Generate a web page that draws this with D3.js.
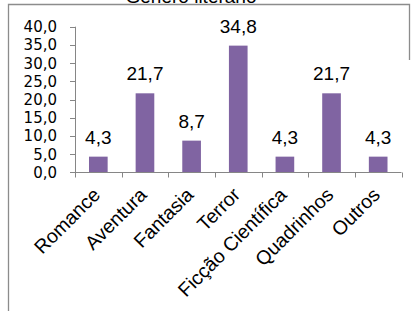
<!DOCTYPE html>
<html>
<head>
<meta charset="utf-8">
<script src="https://cdn.jsdelivr.net/npm/d3@7"></script>
<style>
  html, body { margin: 0; padding: 0; background: #fff; }
  svg { display: block; }
</style>
</head>
<body>
<svg id="chart" width="412" height="311"></svg>
<script>
const categories = ['Romance', 'Aventura', 'Fantasia', 'Terror', 'Ficção Científica', 'Quadrinhos', 'Outros'];
const values = [4.3, 21.7, 8.7, 34.8, 4.3, 21.7, 4.3];
const yTicks = [0, 5, 10, 15, 20, 25, 30, 35, 40];
const title = 'Gênero literário';

const width = 412;
const height = 311;
const margin = { top: 26.7, left: 75, right: 11, bottom: 138.7 };
const axisColor = '#868686';
const barColor = '#8064A2';

const svg = d3.select('#chart');
const fmt = (v) => d3.format('.1f')(v).replace('.', ',');

// moldura
svg
  .append('path')
  .attr('fill', 'none')
  .attr('stroke', '#8c8c8c')
  .attr('stroke-width', 1.3)
  .attr('d', `M8.5 ${height} V4.5 H409.5 V60`);

svg
  .append('text')
  .attr('x', 191)
  .attr('y', 3)
  .attr('text-anchor', 'middle')
  .attr('font-family', 'Liberation Sans, Arial, sans-serif')
  .attr('font-size', 19)
  .attr('fill', '#000')
  .text(title);

const x = d3
  .scaleBand()
  .domain(categories)
  .range([margin.left, width - margin.right + 0.5])
  .paddingInner(0.6)
  .paddingOuter(0.3);

const y = d3
  .scaleLinear()
  .domain([0, 40])
  .range([height - margin.bottom, margin.top]);

// eixo y
const gy = svg.append('g').attr('class', 'y-axis');
gy.append('line')
  .attr('x1', margin.left + 0.5)
  .attr('x2', margin.left + 0.5)
  .attr('y1', y(40))
  .attr('y2', y(0))
  .attr('stroke', axisColor);
gy.selectAll('line.tick')
  .data(yTicks)
  .join('line')
  .attr('class', 'tick')
  .attr('x1', margin.left - 5)
  .attr('x2', margin.left + 0.5)
  .attr('y1', (d) => Math.round(y(d)) + 0.5)
  .attr('y2', (d) => Math.round(y(d)) + 0.5)
  .attr('stroke', axisColor);
gy.selectAll('text')
  .data(yTicks)
  .join('text')
  .attr('x', 57)
  .attr('y', (d) => y(d))
  .attr('dy', '0.36em')
  .attr('text-anchor', 'end')
  .attr('font-family', 'DejaVu Sans, sans-serif')
  .attr('font-size', 15)
  .attr('fill', '#000')
  .text(fmt);

// barras
svg
  .append('g')
  .selectAll('rect')
  .data(values)
  .join('rect')
  .attr('x', (d, i) => x(categories[i]))
  .attr('y', (d) => y(d))
  .attr('width', x.bandwidth())
  .attr('height', (d) => y(0) - y(d))
  .attr('fill', barColor);

svg
  .append('g')
  .selectAll('text')
  .data(values)
  .join('text')
  .attr('x', (d, i) => x(categories[i]) + x.bandwidth() / 2)
  .attr('y', (d) => y(d) - 13)
  .attr('text-anchor', 'middle')
  .attr('font-family', 'Liberation Sans, Arial, sans-serif')
  .attr('font-size', 19)
  .attr('fill', '#000')
  .text(fmt);

// eixo x
const gx = svg.append('g').attr('class', 'x-axis');
const y0 = Math.round(y(0)) + 0.5;
gx.append('line')
  .attr('x1', margin.left)
  .attr('x2', x.range()[1])
  .attr('y1', y0)
  .attr('y2', y0)
  .attr('stroke', axisColor);
const step = x.step();
gx.selectAll('line.tick')
  .data(d3.range(categories.length + 1))
  .join('line')
  .attr('class', 'tick')
  .attr('x1', (d) => Math.round(margin.left + d * step) + 0.5)
  .attr('x2', (d) => Math.round(margin.left + d * step) + 0.5)
  .attr('y1', y0)
  .attr('y2', y0 + 5)
  .attr('stroke', axisColor);
gx.selectAll('text')
  .data(categories)
  .join('text')
  .attr('text-anchor', 'end')
  .attr('transform', (d) => `translate(${x(d) + x.bandwidth() / 2 + 3},196) rotate(-45)`)
  .attr('font-family', 'Liberation Sans, Arial, sans-serif')
  .attr('font-size', 19.5)
  .attr('fill', '#000')
  .text((d) => d);
</script>
</body>
</html>
